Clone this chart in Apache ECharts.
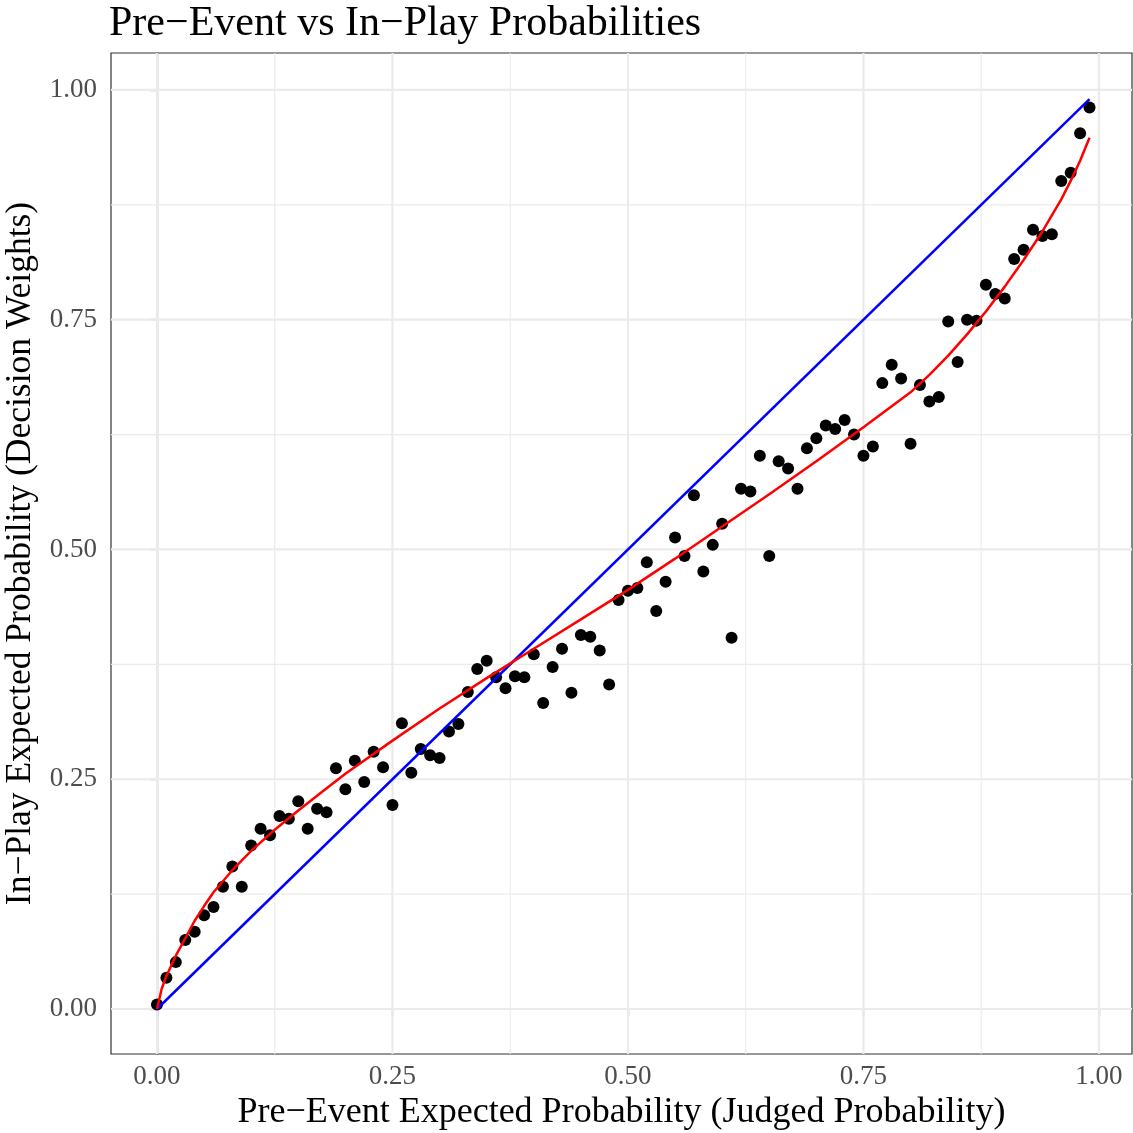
<!DOCTYPE html>
<html>
<head>
<meta charset="utf-8">
<script src="https://cdn.jsdelivr.net/npm/echarts@6/dist/echarts.min.js"></script>
<style>
html,body{margin:0;padding:0;background:#fff;}
#chart{width:1133px;height:1133px;}
</style>
</head>
<body>
<div id="chart"></div>
<script>
// ---- data ----
const preEvent = [
  0.00,0.01,0.02,0.03,0.04,0.05,0.06,0.07,0.08,0.09,
  0.10,0.11,0.12,0.13,0.14,0.15,0.16,0.17,0.18,0.19,
  0.20,0.21,0.22,0.23,0.24,0.25,0.26,0.27,0.28,0.29,
  0.30,0.31,0.32,0.33,0.34,0.35,0.36,0.37,0.38,0.39,
  0.40,0.41,0.42,0.43,0.44,0.45,0.46,0.47,0.48,0.49,
  0.50,0.51,0.52,0.53,0.54,0.55,0.56,0.57,0.58,0.59,
  0.60,0.61,0.62,0.63,0.64,0.65,0.66,0.67,0.68,0.69,
  0.70,0.71,0.72,0.73,0.74,0.75,0.76,0.77,0.78,0.79,
  0.80,0.81,0.82,0.83,0.84,0.85,0.86,0.87,0.88,0.89,
  0.90,0.91,0.92,0.93,0.94,0.95,0.96,0.97,0.98,0.99
];
const inPlay = [
  0.005,0.034,0.051,0.075,0.084,0.102,0.111,0.133,0.155,0.133,
  0.178,0.196,0.189,0.210,0.207,0.226,0.196,0.218,0.214,0.262,
  0.239,0.270,0.247,0.280,0.263,0.222,0.311,0.257,0.283,0.276,
  0.273,0.302,0.310,0.345,0.370,0.379,0.361,0.349,0.362,0.361,
  0.386,0.333,0.372,0.392,0.344,0.407,0.405,0.390,0.353,0.445,
  0.455,0.458,0.486,0.433,0.465,0.513,0.493,0.559,0.476,0.505,
  0.528,0.404,0.566,0.563,0.602,0.493,0.596,0.588,0.566,0.610,
  0.621,0.635,0.631,0.641,0.625,0.602,0.612,0.681,0.701,0.686,
  0.615,0.679,0.661,0.666,0.748,0.704,0.750,0.749,0.788,0.778,
  0.773,0.816,0.826,0.848,0.841,0.843,0.901,0.910,0.953,0.981
];
// fitted curve (red)
const curveX = [0,0.005,0.01,0.02,0.03,0.04,0.05,0.06,0.08,0.10,0.125,0.15,0.175,0.20,0.25,0.30,0.35,0.40,0.45,0.50,0.55,0.60,0.65,0.70,0.75,0.80,0.82,0.84,0.86,0.88,0.90,0.92,0.94,0.96,0.97,0.98,0.99];
const curveY = [0.000,0.022,0.036,0.058,0.077,0.096,0.112,0.127,0.151,0.172,0.195,0.216,0.236,0.256,0.292,0.327,0.360,0.392,0.424,0.456,0.490,0.525,0.560,0.596,0.633,0.671,0.690,0.711,0.734,0.759,0.786,0.815,0.846,0.881,0.901,0.923,0.948];
// identity line (blue)
const diagX = [0, 0.99];
const diagY = [0, 0.99];
// ticks / grid
const majorTicks = [0, 0.25, 0.5, 0.75, 1.0];
const minorTicks = [0.125, 0.375, 0.625, 0.875];
const xRange = [-0.04883, 1.0351];
const yRange = [-0.04897, 1.0402];

const FONT = "'Liberation Serif', 'Times New Roman', serif";

const chart = echarts.init(document.getElementById('chart'), null, {renderer: 'canvas'});

function gridSeries(v, vertical, width) {
  return {
    type: 'line', silent: true, z: 1, showSymbol: false, symbol: 'none',
    data: vertical ? [[v, yRange[0]], [v, yRange[1]]] : [[xRange[0], v], [xRange[1], v]],
    lineStyle: {color: '#EBEBEB', width: width},
    emphasis: {disabled: true}
  };
}
const gridLines = [];
minorTicks.forEach(v => { gridLines.push(gridSeries(v, true, 1.1)); gridLines.push(gridSeries(v, false, 1.1)); });
majorTicks.forEach(v => { gridLines.push(gridSeries(v, true, 2.2)); gridLines.push(gridSeries(v, false, 2.2)); });

const option = {
  backgroundColor: '#ffffff',
  animation: false,
  title: {
    text: 'Pre\u2212Event vs In\u2212Play Probabilities',
    left: 109, top: 3, padding: 0,
    textStyle: {fontFamily: FONT, fontSize: 42, fontWeight: 'normal', color: '#000'}
  },
  grid: {
    left: 111, top: 53, width: 1021, height: 1001,
    outerBoundsMode: 'none', containLabel: false,
    show: true, borderColor: '#333333', borderWidth: 1.2, backgroundColor: '#fff'
  },
  xAxis: {
    type: 'value', min: xRange[0], max: xRange[1],
    name: 'Pre\u2212Event Expected Probability (Judged Probability)',
    nameLocation: 'middle', nameGap: 36,
    nameTextStyle: {fontFamily: FONT, fontSize: 36, color: '#000'},
    axisLine: {show: true, lineStyle: {color: '#333333', width: 1.2}},
    axisTick: {show: true, customValues: majorTicks, length: 7, lineStyle: {color: '#333333', width: 1.2}},
    axisLabel: {customValues: majorTicks, color: '#4D4D4D', fontFamily: FONT, fontSize: 27, margin: 9,
      formatter: v => v.toFixed(2)},
    splitLine: {show: false}
  },
  yAxis: {
    type: 'value', min: yRange[0], max: yRange[1],
    name: 'In\u2212Play Expected Probability (Decision Weights)',
    nameLocation: 'middle', nameGap: 65, nameRotate: 90,
    nameTextStyle: {fontFamily: FONT, fontSize: 35.5, color: '#000'},
    axisLine: {show: true, lineStyle: {color: '#333333', width: 1.2}},
    axisTick: {show: true, customValues: majorTicks, length: 7, lineStyle: {color: '#333333', width: 1.2}},
    axisLabel: {customValues: majorTicks, color: '#4D4D4D', fontFamily: FONT, fontSize: 27, margin: 14,
      formatter: v => v.toFixed(2)},
    splitLine: {show: false}
  },
  series: gridLines.concat([
    {
      name: 'points', type: 'scatter', z: 3,
      data: preEvent.map((x, i) => [x, inPlay[i]]),
      symbol: 'circle', symbolSize: 12,
      itemStyle: {color: '#000000', opacity: 1}
    },
    {
      name: 'identity', type: 'line', z: 4,
      data: diagX.map((x, i) => [x, diagY[i]]),
      showSymbol: false, symbol: 'none',
      lineStyle: {color: '#0000FF', width: 2.5}
    },
    {
      name: 'fit', type: 'line', z: 5,
      data: curveX.map((x, i) => [x, curveY[i]]),
      showSymbol: false, symbol: 'none', smooth: false,
      lineStyle: {color: '#FF0000', width: 2.5}
    }
  ])
};
chart.setOption(option);
</script>
</body>
</html>
